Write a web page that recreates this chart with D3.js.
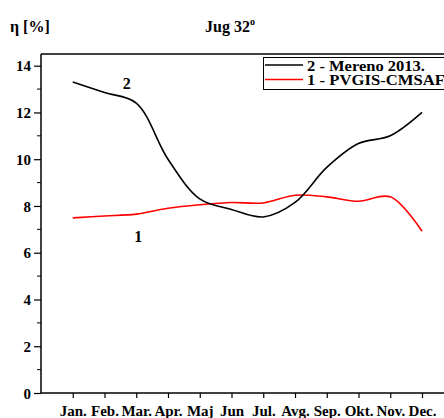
<!DOCTYPE html>
<html><head><meta charset="utf-8">
<script src="https://cdn.jsdelivr.net/npm/d3@7"></script>
<style>body{margin:0;background:#fff}svg{display:block}text{font-family:"Liberation Serif","Times New Roman",serif;font-weight:bold;fill:#000}</style>
</head><body>
<script>
const months = ["Jan.","Feb.","Mar.","Apr.","Maj","Jun","Jul.","Avg.","Sep.","Okt.","Nov.","Dec."];
const mereno2013 = [13.3,12.85,12.4,10.0,8.3,7.85,7.53,8.15,9.65,10.67,11.0,12.0];
const pvgisCmsaf = [7.49,7.57,7.65,7.9,8.05,8.15,8.13,8.46,8.39,8.2,8.39,6.92];
const yTicks = [0,2,4,6,8,10,12,14];
const seriesNames = ["2 - Mereno 2013.","1 - PVGIS-CMSAF"];

const W=444,H=418;
const svg=d3.select("body").append("svg").attr("width",W).attr("height",H);
const x=d3.scaleLinear().domain([-1,12]).range([41,453.75]);
const y=d3.scaleLinear().domain([0,14.5]).range([393,54]);

// frame top line
svg.append("line").attr("x1",41).attr("x2",W).attr("y1",y(14.5)).attr("y2",y(14.5)).attr("stroke","#000").attr("stroke-width",1.5);

// y axis
const yAxis=d3.axisLeft(y).tickValues(yTicks).tickSize(7).tickPadding(3).tickFormat(d3.format("d"));
const gy=svg.append("g").attr("transform","translate(41,0)").call(yAxis);
gy.select(".domain").attr("d",`M0,${y(0)}V${y(14.5)}`).attr("stroke-width",1.5);
gy.selectAll(".tick line").attr("stroke-width",1.2);
gy.selectAll(".tick text").style("font-size","15px").attr("dy","0.35em");
const minor=d3.range(1,15,2);
gy.selectAll(".minor").data(minor).enter().append("line").attr("x1",0).attr("x2",-4).attr("y1",d=>y(d)).attr("y2",d=>y(d)).attr("stroke","#000").attr("stroke-width",1);

// x axis
const xAxis=d3.axisBottom(x).tickValues(d3.range(0,12)).tickSize(5).tickPadding(7).tickFormat(i=>months[i]);
const gx=svg.append("g").attr("transform",`translate(0,${y(0)})`).call(xAxis);
gx.select(".domain").attr("d",`M41,0H${W}`).attr("stroke-width",1.5);
gx.selectAll(".tick line").attr("stroke-width",1.2);
gx.selectAll(".tick text").style("font-size","15px");

// lines
const line=d3.line().x((d,i)=>x(i)).y(d=>y(d)).curve(d3.curveCatmullRom.alpha(0.5));
svg.append("path").datum(pvgisCmsaf).attr("d",line).attr("fill","none").attr("stroke","#ff0000").attr("stroke-width",1.6);
svg.append("path").datum(mereno2013).attr("d",line).attr("fill","none").attr("stroke","#000").attr("stroke-width",1.6);

// curve labels
svg.append("text").attr("x",126.7).attr("y",89).attr("text-anchor","middle").style("font-size","16px").text("2");
svg.append("text").attr("x",138.3).attr("y",242).attr("text-anchor","middle").style("font-size","16px").text("1");

// legend
svg.append("rect").attr("x",263.5).attr("y",57.5).attr("width",200).attr("height",32).attr("fill","#fff").attr("stroke","#000").attr("stroke-width",1);
const colors=["#000","#ff0000"];
const textLens=[118,138];
seriesNames.forEach((n,i)=>{
  const ly=65+i*14.5;
  svg.append("line").attr("x1",265).attr("x2",303).attr("y1",ly).attr("y2",ly).attr("stroke",colors[i]).attr("stroke-width",1.6);
  svg.append("text").attr("x",307).attr("y",ly+1).attr("dy","0.35em").style("font-size","14px")
    .attr("textLength",textLens[i]).attr("lengthAdjust","spacingAndGlyphs").text(n);
});

// titles
svg.append("text").attr("x",10).attr("y",32).style("font-size","16px").text("η [%]");
const t=svg.append("text").attr("x",205).attr("y",32).style("font-size","16px");
t.append("tspan").text("Jug 32");
t.append("tspan").attr("dy",-7).style("font-size","10px").text("o");
</script>
</body></html>
